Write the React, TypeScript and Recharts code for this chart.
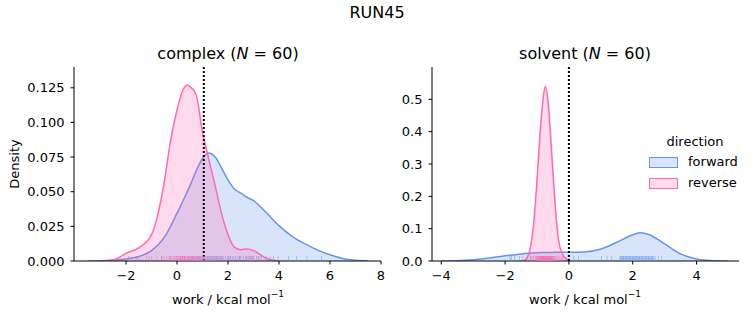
import { ComposedChart, Area, Scatter, XAxis, YAxis, ReferenceLine } from 'recharts'

// colours follow seaborn's cornflowerblue / hotpink with 0.25 alpha fills
const BLUE = '#6495ED'
const PINK = '#FF69B4'
const FONT = '"DejaVu Sans", sans-serif'

// complex panel: KDE curves
const complexX = [-3.5, -3, -2.5, -2, -1.5, -1, -0.5, -0.25, 0, 0.25, 0.4, 0.5, 0.75, 1, 1.25, 1.5, 1.75, 2, 2.25, 2.5, 2.75, 3, 3.5, 4, 4.5, 5, 5.5, 6, 6.5, 7, 7.5]
const complexForward = [0, 0.0002, 0.0007, 0.0015, 0.0033, 0.0075, 0.017, 0.025, 0.0345, 0.044, 0.05, 0.054, 0.065, 0.074, 0.078, 0.075, 0.067, 0.0586, 0.052, 0.049, 0.046, 0.0435, 0.035, 0.0255, 0.018, 0.0125, 0.008, 0.0045, 0.0018, 0.0005, 0.0001]
const complexReverse = [null, 0, 0.0008, 0.0055, 0.0095, 0.019, 0.057, 0.087, 0.109, 0.124, 0.127, 0.126, 0.12, 0.093, 0.073, 0.054, 0.034, 0.019, 0.01, 0.0082, 0.0087, 0.0075, 0.002, 0, null, null, null, null, null, null, null]

// solvent panel
const solventX = [-4, -3.5, -3, -2.5, -2, -1.5, -1.4, -1.3, -1.2, -1.1, -1, -0.9, -0.8, -0.74, -0.65, -0.55, -0.45, -0.35, -0.2, 0, 0.5, 1, 1.5, 2, 2.25, 2.5, 3, 3.5, 4, 4.5, 5]
const solventForward = [0, 0.001, 0.004, 0.009, 0.016, 0.022, 0.023, 0.024, 0.0245, 0.025, 0.0256, 0.026, 0.0262, 0.0264, 0.0265, 0.0266, 0.0267, 0.0268, 0.0268, 0.027, 0.028, 0.037, 0.058, 0.081, 0.087, 0.082, 0.053, 0.022, 0.006, 0.001, 0]
const solventReverse = [null, null, null, null, null, 0, 0.002, 0.012, 0.045, 0.12, 0.25, 0.4, 0.51, 0.54, 0.49, 0.35, 0.2, 0.085, 0.02, 0.002, null, null, null, null, null, null, null, null, null, null, null]

// rug samples (approximate positions of the work values)
const complexForwardRug = [-1.9, -1.58, -1.1, -0.6, -0.3, 0.0, 0.15, 0.3, 0.45, 0.55, 0.65, 0.75, 0.85, 0.95, 1.0, 1.05, 1.1, 1.15, 1.2, 1.25, 1.3, 1.35, 1.4, 1.45, 1.5, 1.55, 1.6, 1.7, 1.8, 1.9, 2.0, 2.1, 2.2, 2.3, 2.4, 2.5, 2.6, 2.7, 2.75, 2.85, 2.9, 3.0, 3.12, 3.2, 3.3, 3.5, 3.65, 3.78, 3.97, 4.37, 4.69, 5.09, 5.67, 0.9, 1.65, 2.05, 2.45, 0.6, 1.75, 2.95]
const complexReverseRug = [-1.8, -1.5, -1.2, -1.0, -0.8, -0.6, -0.5, -0.4, -0.3, -0.2, -0.15, -0.1, 0.0, 0.05, 0.1, 0.15, 0.2, 0.25, 0.3, 0.35, 0.4, 0.45, 0.5, 0.55, 0.6, 0.65, 0.7, 0.75, 0.8, 0.85, 0.9, 0.95, 1.0, 1.1, 1.2, 1.3, 1.4, 1.5, 1.6, 1.7, 1.8, 2.0, 2.2, 2.7, 2.8, 2.9, 3.0, 0.32, 0.42, 0.52, 0.62, 0.12, 0.22, -0.05, 0.72, 0.82, 1.05, 1.25, -0.25, 3.2]
const solventForwardRug = [-1.85, -1.8, -1.7, -1.55, -1.45, -1.2, -1.0, -0.8, -0.5, 0.15, 0.3, 1.02, 1.2, 1.34, 1.6, 1.65, 1.7, 1.75, 1.8, 1.85, 1.9, 1.95, 2.0, 2.05, 2.1, 2.15, 2.2, 2.25, 2.3, 2.35, 2.4, 2.45, 2.5, 2.55, 2.6, 2.65, 2.7, 2.8, 2.9, 1.62, 1.72, 1.82, 1.92, 2.02, 2.12, 2.22, 2.32, 2.42, 2.52, 2.62, 1.68, 1.88, 2.08, 2.28, 2.48, 1.78, 1.98, 2.18, 2.38, 2.58]
const solventReverseRug = [-1.3, -1.2, -1.15, -1.1, -1.05, -1.02, -1.0, -0.98, -0.95, -0.92, -0.9, -0.88, -0.86, -0.84, -0.82, -0.8, -0.79, -0.78, -0.77, -0.76, -0.75, -0.74, -0.73, -0.72, -0.71, -0.7, -0.69, -0.68, -0.67, -0.66, -0.65, -0.64, -0.62, -0.6, -0.58, -0.56, -0.54, -0.52, -0.5, -0.48, -0.45, -0.42, -0.4, -0.35, -0.3, -0.25, -0.2, -0.81, -0.83, -0.85, -0.87, -0.89, -0.91, -0.93, -0.61, -0.63, -0.57, -0.55, -0.53, -0.72]

const complexXTicks = [-2, 0, 2, 4, 6, 8]
const complexYTicks = [0, 0.025, 0.05, 0.075, 0.1, 0.125]
const solventXTicks = [-4, -2, 0, 2, 4]
const solventYTicks = [0, 0.1, 0.2, 0.3, 0.4, 0.5]

function kdeRows(xs: number[], fwd: (number | null)[], rev: (number | null)[]) {
  return xs.map((x, i) => ({ x, forward: fwd[i], reverse: rev[i] }))
}

function rugRows(xs: number[]) {
  return xs.map(x => ({ x, y: 0 }))
}

// matplotlib prints a real minus sign
const fmtX = (v: number) => String(v).replace('-', '\u2212')

function rugTick(color: string) {
  return (props: any) => {
    const { cx, cy } = props
    if (cx == null || cy == null) return <g />
    return <line x1={cx} x2={cx} y1={cy} y2={cy - 5} stroke={color} strokeOpacity={0.5} strokeWidth={1} />
  }
}

const tickStyle = { fill: '#000', fontSize: 13, fontFamily: FONT }

interface PanelProps {
  rows: { x: number; forward: number | null; reverse: number | null }[]
  fwdRug: number[]
  revRug: number[]
  xDomain: [number, number]
  yDomain: [number, number]
  xTicks: number[]
  yTicks: number[]
  yFmt: (v: number) => string
  refX: number
  width: number
  yAxisWidth: number
  rightMargin: number
}

function Panel(p: PanelProps) {
  return (
    <ComposedChart
      width={p.width}
      height={325}
      data={p.rows}
      margin={{ top: 67, right: p.rightMargin, left: 0, bottom: 0 }}
    >
      <XAxis
        dataKey="x"
        type="number"
        domain={p.xDomain}
        ticks={p.xTicks}
        allowDataOverflow
        tickFormatter={fmtX}
        tick={tickStyle}
        tickSize={3.5}
        tickMargin={6}
        stroke="#000"
        height={64}
      />
      <YAxis
        type="number"
        domain={p.yDomain}
        ticks={p.yTicks}
        allowDataOverflow
        tickFormatter={p.yFmt}
        tick={tickStyle}
        tickSize={3.5}
        tickMargin={6}
        stroke="#000"
        width={p.yAxisWidth}
      />
      <Area
        type="monotone"
        dataKey="forward"
        stroke={BLUE}
        strokeWidth={1.5}
        fill={BLUE}
        fillOpacity={0.25}
        connectNulls={false}
        dot={false}
        activeDot={false}
        isAnimationActive={false}
      />
      <Area
        type="monotone"
        dataKey="reverse"
        stroke={PINK}
        strokeWidth={1.5}
        fill={PINK}
        fillOpacity={0.25}
        connectNulls={false}
        dot={false}
        activeDot={false}
        isAnimationActive={false}
      />
      <Scatter data={rugRows(p.fwdRug)} dataKey="y" shape={rugTick(BLUE)} isAnimationActive={false} />
      <Scatter data={rugRows(p.revRug)} dataKey="y" shape={rugTick(PINK)} isAnimationActive={false} />
      <ReferenceLine x={p.refX} stroke="#000" strokeWidth={2} strokeDasharray="2 2" />
    </ComposedChart>
  )
}

const label = (extra: React.CSSProperties): React.CSSProperties => ({
  position: 'absolute',
  fontFamily: FONT,
  color: '#000',
  whiteSpace: 'nowrap',
  lineHeight: 1,
  ...extra,
})

function XLabel({ center }: { center: number }) {
  return (
    <div style={label({ left: center, top: 293, fontSize: 13, transform: 'translateX(-50%)' })}>
      work / kcal mol<sup style={{ fontSize: 9, verticalAlign: 'top', position: 'relative', top: -3 }}>−1</sup>
    </div>
  )
}

function Title({ center, name }: { center: number; name: string }) {
  return (
    <div style={label({ left: center, top: 46, fontSize: 16, transform: 'translateX(-50%)' })}>
      {name} (<i>N</i> = 60)
    </div>
  )
}

export default function App() {
  return (
    <div style={{ position: 'absolute', left: 0, top: 0, width: 753, height: 325, background: '#fff' }}>
      <div style={{ position: 'absolute', left: 0, top: 0 }}>
        <Panel
          rows={kdeRows(complexX, complexForward, complexReverse)}
          fwdRug={complexForwardRug}
          revRug={complexReverseRug}
          xDomain={[-4.04, 8]}
          yDomain={[0, 0.14]}
          xTicks={complexXTicks}
          yTicks={complexYTicks}
          yFmt={v => v.toFixed(3)}
          refX={1.05}
          width={390}
          yAxisWidth={74}
          rightMargin={9}
        />
      </div>
      <div style={{ position: 'absolute', left: 390, top: 0 }}>
        <Panel
          rows={kdeRows(solventX, solventForward, solventReverse)}
          fwdRug={solventForwardRug}
          revRug={solventReverseRug}
          xDomain={[-4.29, 5.33]}
          yDomain={[0, 0.6]}
          xTicks={solventXTicks}
          yTicks={solventYTicks}
          yFmt={v => v.toFixed(1)}
          refX={0}
          width={363}
          yAxisWidth={42}
          rightMargin={14}
        />
      </div>

      <div style={label({ left: 377, top: 5, fontSize: 16, transform: 'translateX(-50%)' })}>RUN45</div>
      <Title center={228} name="complex" />
      <Title center={585} name="solvent" />
      <XLabel center={228} />
      <XLabel center={585} />
      <div style={label({ left: 14, top: 164, fontSize: 13, transform: 'translate(-50%, -50%) rotate(-90deg)' })}>Density</div>

      {/* legend */}
      <div style={label({ left: 695, top: 135, fontSize: 13, transform: 'translateX(-50%)' })}>direction</div>
      <div style={{ position: 'absolute', left: 649, top: 157, width: 27, height: 9, background: 'rgba(100,149,237,0.25)', border: `1px solid ${BLUE}` }} />
      <div style={label({ left: 688, top: 155, fontSize: 13 })}>forward</div>
      <div style={{ position: 'absolute', left: 649, top: 178, width: 27, height: 9, background: 'rgba(255,105,180,0.25)', border: `1px solid ${PINK}` }} />
      <div style={label({ left: 688, top: 176, fontSize: 13 })}>reverse</div>
    </div>
  )
}
